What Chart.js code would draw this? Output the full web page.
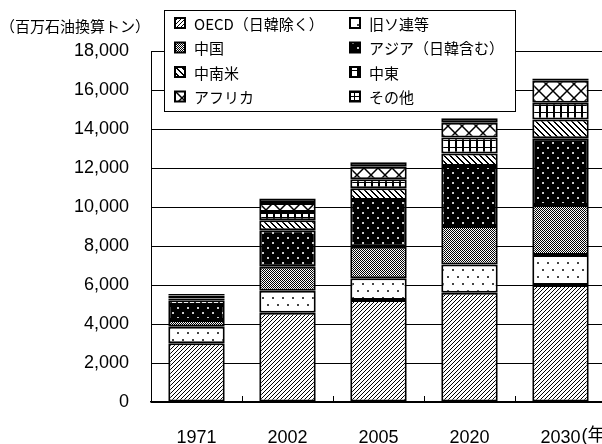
<!DOCTYPE html>
<html>
<head>
<meta charset="utf-8">
<script src="https://cdn.jsdelivr.net/npm/chart.js@4.4.1/dist/chart.umd.min.js"></script>
<style>
html, body { margin: 0; padding: 0; background: #fff; overflow: hidden; width: 602px; height: 444px; }
#wrap { width: 612px; height: 444px; }
</style>
</head>
<body>
<div id="wrap"><canvas id="myChart" width="612" height="444"></canvas></div>
<script>
// categories / series (百万石油換算トン)
const years = ['1971', '2002', '2005', '2020', '2030'];
const regions = ['OECD（日韓除く）', '旧ソ連等', '中国', 'アジア（日韓含む）', '中南米', '中東', 'アフリカ', 'その他'];
const oecd    = [3010, 4580, 5230, 5600, 6000];
const fsu     = [850, 1130, 1110, 1450, 1540];
const china   = [340, 1220, 1620, 1970, 2560];
const asia    = [770, 1880, 2400, 3080, 3420];
const latam   = [250, 510, 600, 650, 970];
const mideast = [90, 430, 460, 820, 850];
const africa  = [150, 460, 650, 750, 1130];
const others  = [80, 230, 220, 230, 120];
const yTicks  = [0, 2000, 4000, 6000, 8000, 10000, 12000, 14000, 16000, 18000];
const yTitle  = '（百万石油換算トン）';
const yearUnit = '(年)';

const series = [oecd, fsu, china, asia, latam, mideast, africa, others];

var canvas = document.getElementById('myChart');
var ctx = canvas.getContext('2d');

// hatch patterns, black and white like the original print
function tile(w, h, bg, draw) {
  var c = document.createElement('canvas');
  c.width = w; c.height = h;
  var g = c.getContext('2d');
  g.fillStyle = bg;
  g.fillRect(0, 0, w, h);
  g.fillStyle = '#000';
  g.strokeStyle = '#000';
  draw(g);
  return ctx.createPattern(c, 'repeat');
}

const patterns = [
  // OECD: ////
  tile(4, 4, '#fff', function(g){ for (let i = 0; i < 4; i++) g.fillRect(i, 3 - i, 1, 1); }),
  // 旧ソ連: sparse dots on white
  tile(10, 14, '#fff', function(g){ g.fillStyle = '#444'; g.fillRect(2, 3, 2, 2); g.fillRect(7, 10, 2, 2); }),
  // 中国: fine checker -> grey
  tile(2, 2, '#fff', function(g){ g.fillRect(0, 0, 1, 1); g.fillRect(1, 1, 1, 1); }),
  // アジア: white dots on black
  tile(10, 10, '#000', function(g){ g.fillStyle = '#ccc'; g.fillRect(2, 2, 2, 2); g.fillRect(7, 7, 2, 2); }),
  // 中南米: \\\\ wider
  tile(6, 6, '#fff', function(g){ for (let i = 0; i < 6; i++) { g.fillRect(i, i, 1, 1); g.fillRect((i + 1) % 6, i, 1, 1); } }),
  // 中東: small grid
  tile(7, 7, '#fff', function(g){ g.fillRect(0, 0, 2, 7); g.fillRect(0, 0, 7, 1); }),
  // アフリカ: XXXX lattice
  tile(14, 14, '#fff', function(g){
    g.lineWidth = 1.5;
    g.beginPath(); g.moveTo(0, 0); g.lineTo(14, 14); g.moveTo(14, 0); g.lineTo(0, 14); g.stroke();
  }),
  // その他: bricks
  tile(6, 4, '#fff', function(g){ g.fillRect(0, 0, 1, 4); g.fillRect(0, 0, 6, 1); })
];

const tickFont = { family: "'Liberation Sans', Arial, sans-serif", size: 18 };
const cjkFont = "15px 'Noto Sans CJK JP', sans-serif";

// legend box drawn inside the plot, two columns
const boxLegend = {
  id: 'boxLegend',
  afterDraw(chart) {
    const c = chart.ctx;
    const x0 = 164, y0 = 10, w = 351, h = 101;
    c.save();
    c.fillStyle = '#fff';
    c.fillRect(x0, y0, w, h);
    c.strokeStyle = '#000';
    c.lineWidth = 1;
    c.strokeRect(x0 + 0.5, y0 + 0.5, w, h);
    c.font = cjkFont;
    c.textBaseline = 'middle';
    chart.data.datasets.forEach(function(ds, k) {
      const col = k % 2, row = Math.floor(k / 2);
      const ix = col ? 350 : 175;
      const iy = 23 + row * 24.5;
      c.fillStyle = ds.backgroundColor;
      c.fillRect(ix, iy - 5, 10, 10);
      c.lineWidth = 2;
      c.strokeStyle = '#000';
      c.strokeRect(ix, iy - 5, 10, 10);
      c.fillStyle = '#000';
      c.fillText(ds.label, ix + 19, iy + 1);
    });
    c.restore();
  }
};

// unit title, (年) after the last year, small upward ticks on the x axis
const extras = {
  id: 'extras',
  afterDraw(chart) {
    const c = chart.ctx;
    const xs = chart.scales.x;
    const b = chart.chartArea.bottom;
    c.save();
    c.strokeStyle = '#000';
    c.lineWidth = 1;
    for (let i = 1; i < years.length; i++) {
      const px = Math.round((xs.getPixelForValue(i - 1) + xs.getPixelForValue(i)) / 2) + 0.5;
      c.beginPath(); c.moveTo(px, b); c.lineTo(px, b - 6); c.stroke();
    }
    c.fillStyle = '#000';
    c.font = cjkFont;
    c.textBaseline = 'middle';
    c.textAlign = 'left';
    c.fillText(yTitle, 0, 26);

    c.font = "18px 'Liberation Sans', 'Noto Sans CJK JP', sans-serif";
    c.textBaseline = 'top';
    const last = years.length - 1;
    const lx = xs.getPixelForValue(last) + c.measureText(years[last]).width / 2 + 1;
    c.fillText(yearUnit, lx, xs.top + 25);
    c.restore();
  }
};

const chart = new Chart(canvas, {
  type: 'bar',
  data: {
    labels: years,
    datasets: regions.map(function(r, i) {
      return {
        label: r,
        data: series[i],
        backgroundColor: patterns[i],
        borderColor: '#000',
        borderWidth: 2,
        borderSkipped: false,
        barPercentage: 0.62,
        categoryPercentage: 1
      };
    })
  },
  options: {
    responsive: false,
    animation: false,
    layout: { padding: { top: 51, right: 6, left: 0, bottom: 0 } },
    plugins: { legend: { display: false }, tooltip: { enabled: false } },
    scales: {
      x: {
        stacked: true,
        grid: { display: false, drawTicks: false },
        border: { color: '#000', width: 1.5 },
        ticks: { color: '#000', font: tickFont, padding: 25, maxRotation: 0 },
        afterFit: function(s) { s.height = 42; }
      },
      y: {
        stacked: true,
        min: 0,
        max: 18000,
        afterBuildTicks: function(s) { s.ticks = yTicks.map(function(v){ return { value: v }; }); },
        grid: { color: '#000', lineWidth: 1, drawTicks: false },
        border: { color: '#000', width: 1 },
        ticks: {
          color: '#000',
          font: tickFont,
          padding: 22,
          callback: function(v) { return Number(v).toLocaleString('en-US'); }
        },
        afterFit: function(s) { s.width = 151; }
      }
    }
  },
  plugins: [boxLegend, extras]
});
</script>
</body>
</html>
